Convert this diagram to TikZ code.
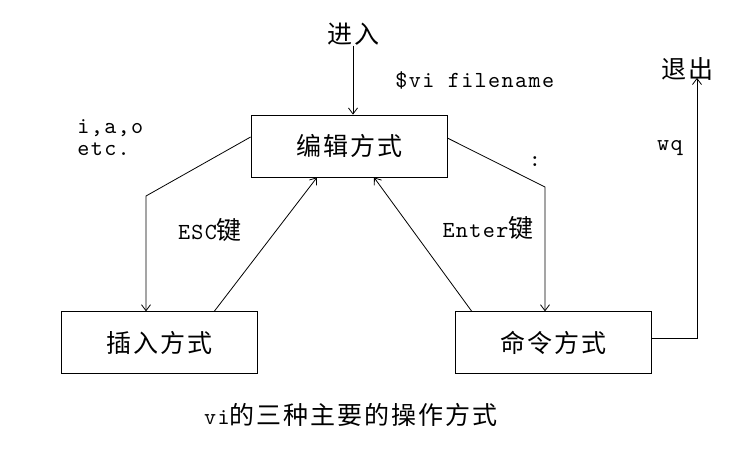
\documentclass[tikz,border=0pt]{standalone}
\usepackage{fontspec}
\newfontfamily\cnfont[LetterSpace=8]{Noto Sans CJK SC}
\newfontfamily\codefont[LetterSpace=6]{lmmono10-regular.otf}
\usetikzlibrary{arrows.meta, positioning}

\begin{document}
\begin{tikzpicture}[x=1pt, y=-1pt, >={Straight Barb[length=6pt, width=9pt]}, line width=0.8pt,
    box/.style={draw, minimum width=196pt, minimum height=62pt, font=\fontsize{25}{28}\selectfont\cnfont},
    lbl/.style={inner sep=0pt, font=\fontsize{23}{26}\selectfont}]
    \useasboundingbox (0,0) rectangle (744,466);

    % 编辑方式（中间）
    \node[box] (edit) at (349,146) {编辑方式};

    % 插入方式 和 命令方式（放在编辑方式下方两侧）
    \node[box, below left=134pt and -7pt of edit] (insert) {插入方式};
    \node[box, below right=134pt and 8pt of edit] (command) {命令方式};

    % 文字
    \node[lbl] (enter) at (353,34) {\fontsize{25}{28}\selectfont\cnfont 进入};
    \node[lbl, anchor=west] (cmdline) at (395,80) {\codefont \$vi filename};
    \node[lbl, anchor=west, align=left] (keys) at (77,138) {\codefont i,a,o\\[-4pt]\codefont etc.};
    \node[lbl] (esc) at (210,230) {\codefont ESC\fontsize{25}{28}\selectfont\cnfont 键};
    \node[lbl] (ret) at (488,228) {\codefont Enter\fontsize{25}{28}\selectfont\cnfont 键};
    \node[lbl] (colon) at (535,162) {\codefont :};
    \node[lbl] (wq) at (670,148) {\codefont wq};
    \node[lbl] (quit) at (687,69) {\fontsize{25}{28}\selectfont\cnfont 退出};
    \node[lbl] (caption) at (351,415) {\codefont vi\fontsize{25}{28}\selectfont\cnfont 的三种主要的操作方式};

    % 折线拐点
    \coordinate (lbend) at (146,196);
    \coordinate (rbend) at (545,187);

    % 连线
    \draw[->] (enter) -- (enter |- edit.north);
    \draw[->] ([yshift=9pt]edit.west) -- (lbend) -- (lbend |- insert.north);
    \draw[->] ([xshift=55pt]insert.north) -- ([xshift=-32pt]edit.south);
    \draw[->] ([xshift=-82pt]command.north) -- ([xshift=25pt]edit.south);
    \draw[->] ([yshift=8pt]edit.east) -- (rbend) -- (rbend |- command.north);
    \draw[->] ([yshift=4pt]command.east) -| ([xshift=10pt, yshift=3pt]quit.south);
\end{tikzpicture}
\end{document}
